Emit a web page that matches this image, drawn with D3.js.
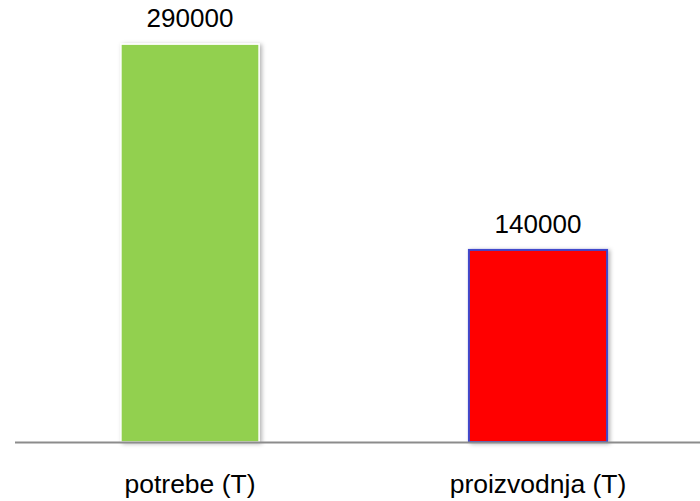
<!DOCTYPE html>
<html><head><meta charset="utf-8">
<script src="https://cdn.jsdelivr.net/npm/d3@7"></script>
<style>body{margin:0;background:#fff}svg{display:block}</style>
</head><body>
<script>
const categories = ["potrebe (T)", "proizvodnja (T)"];
const values = [290000, 140000];
const valueLabels = ["290000", "140000"];
const fills = ["#92D050", "#FF0000"];
const strokes = ["#FFFFFF", "#3F48CC"];

const W = 700, H = 501;
const svg = d3.select("body").append("svg").attr("width", W).attr("height", H);
const defs = svg.append("defs");
const f = defs.append("filter").attr("id","sh").attr("x","-10%").attr("y","-10%").attr("width","130%").attr("height","130%");
f.append("feDropShadow").attr("dx",2).attr("dy",1).attr("stdDeviation",2).attr("flood-color","#000").attr("flood-opacity",0.3);

const x = d3.scaleBand().domain(categories).range([16, 712]).paddingInner(0.603).paddingOuter(0.3015);
const y = d3.scaleLinear().domain([0, 300000]).range([442, 442 - 300000*0.001372]);

svg.selectAll("rect.bar").data(values).join("rect").attr("class","bar")
  .attr("x",(d,i)=>x(categories[i]))
  .attr("y",d=>y(d))
  .attr("width",x.bandwidth())
  .attr("height",d=>y(0)-y(d))
  .attr("fill",(d,i)=>fills[i])
  .attr("stroke",(d,i)=>strokes[i])
  .attr("stroke-width",(d,i)=>i===0?1.5:2)
  .attr("filter","url(#sh)");

svg.append("line").attr("x1",15).attr("x2",700).attr("y1",y(0)+0.5).attr("y2",y(0)+0.5)
  .attr("stroke","#8c8c8c").attr("stroke-width",2);

svg.selectAll("text.val").data(values).join("text").attr("class","val")
  .attr("x",(d,i)=>x(categories[i])+x.bandwidth()/2)
  .attr("y",d=>y(d)-17)
  .attr("text-anchor","middle")
  .attr("font-family","Liberation Sans, Arial, sans-serif")
  .attr("font-size",26).attr("fill","#000")
  .text((d,i)=>valueLabels[i]);

const xAxis = d3.axisBottom(x).tickSize(0).tickPadding(0);
const g = svg.append("g").attr("transform",`translate(0,${y(0)})`).call(xAxis);
g.select(".domain").remove();
g.attr("font-size",26).attr("font-family","Liberation Sans, Arial, sans-serif");
g.selectAll("text").attr("dy",0).attr("y",51)
  .attr("font-family","Liberation Sans, Arial, sans-serif")
  .attr("font-size",26.5).attr("fill","#000");
</script>
</body></html>
